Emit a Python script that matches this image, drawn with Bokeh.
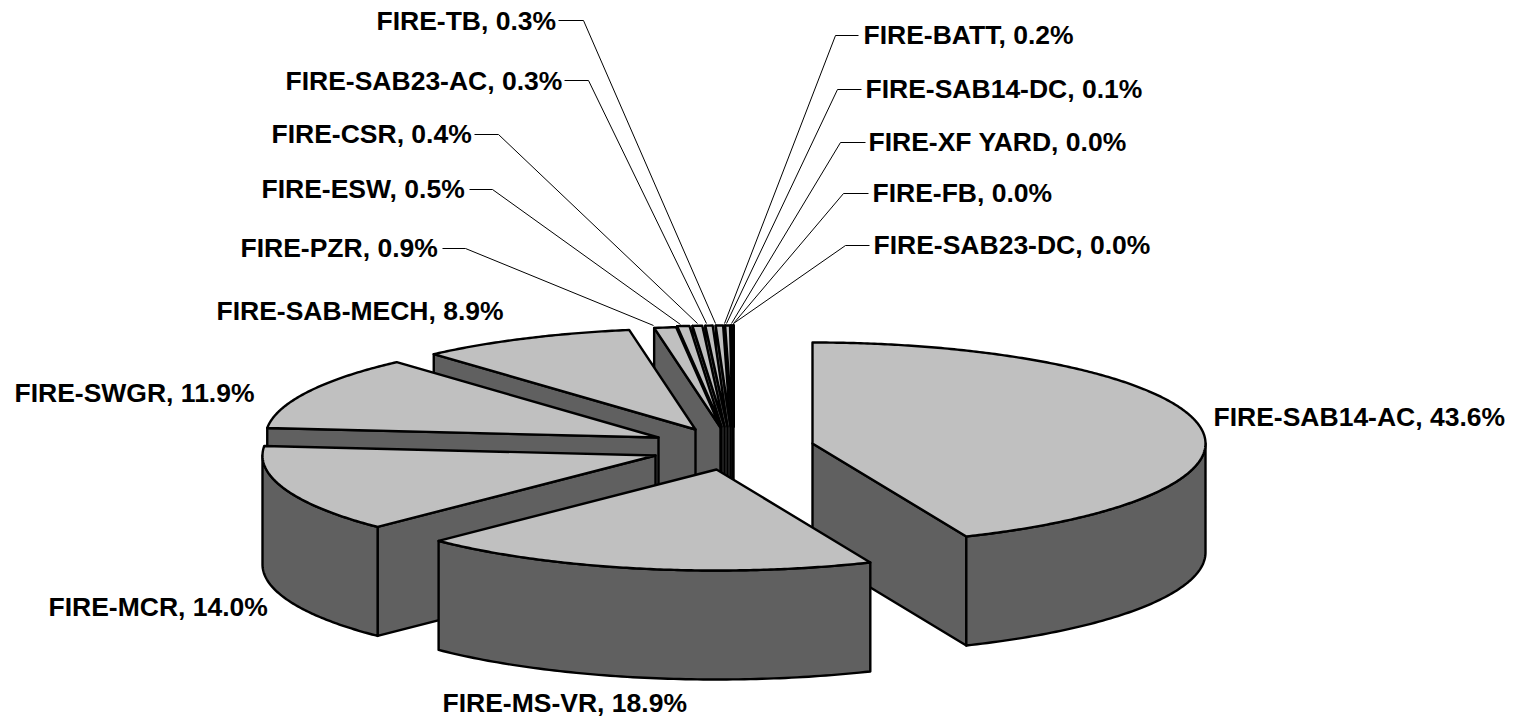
import numpy as np
from bokeh.plotting import figure
from bokeh.models import Range1d, ColumnDataSource
from bokeh.core.properties import value
from bokeh.embed import file_html
from bokeh.resources import INLINE

# --- data ---
categories = ["FIRE-SAB14-AC", "FIRE-MS-VR", "FIRE-MCR", "FIRE-SWGR", "FIRE-SAB-MECH",
              "FIRE-PZR", "FIRE-ESW", "FIRE-CSR", "FIRE-SAB23-AC", "FIRE-TB",
              "FIRE-BATT", "FIRE-SAB14-DC", "FIRE-XF YARD", "FIRE-FB", "FIRE-SAB23-DC"]
percent = [43.6, 18.9, 14.0, 11.9, 8.9, 0.9, 0.5, 0.4, 0.3, 0.3, 0.2, 0.1, 0.0, 0.0, 0.0]

# --- layout (page pixels) ---
RX, RY, DEPTH = 393.0, 101.0, 109.0
apex_x = [812, 716, 655, 658, 695, 720, 721, 724, 727, 730, 732, 733, 733, 733, 733]
apex_y = [443, 469, 455, 437, 429, 427, 426, 426, 426, 426, 426, 426, 426, 426, 426]
label_x = [1213, 442, 48, 14, 216, 240, 261, 271, 285, 376, 863, 865, 868, 872, 873]
label_y = [416, 702, 606, 392, 310, 247, 188, 133, 80, 20, 34, 88, 141, 192, 244]
leader_x = {5: [442, 465, 653], 6: [469, 492, 680], 7: [474, 498, 697], 8: [564, 588, 706],
            9: [558, 583, 715], 10: [858, 835, 724], 11: [861, 837, 726], 12: [865, 840, 731],
            13: [868, 843, 733], 14: [869, 845, 733]}
leader_y = {5: [248, 248, 325], 6: [189, 189, 324], 7: [134, 134, 323], 8: [80, 80, 323],
            9: [20, 20, 323], 10: [35, 35, 323], 11: [89, 89, 323], 12: [142, 142, 323],
            13: [193, 193, 323], 14: [245, 245, 323]}
TOP, SIDE = "#C0C0C0", "#606060"

p = figure(width=1513, height=720, output_backend="svg", toolbar_location=None,
           x_range=Range1d(0, 1513), y_range=Range1d(720, 0),
           min_border=0, outline_line_color=None, background_fill_color="white")
p.xaxis.visible = False
p.yaxis.visible = False
p.grid.visible = False

edges = np.concatenate([[0], np.cumsum(percent)]) / np.sum(percent) * 360.0


def rim(ax, ay, deg):
    t = np.radians(deg)
    return ax + RX * np.sin(t), ay - RY * np.cos(t)


xs, ys, fills = [], [], []


def add(px, py, col):
    xs.append(list(map(float, px)))
    ys.append(list(map(float, py)))
    fills.append(col)


# far slices first, the two nearest last
order = list(range(len(percent) - 1, 1, -1)) + [0, 1]
for i in order:
    a0, a1 = edges[i], edges[i + 1]
    ax, ay = apex_x[i], apex_y[i]
    # start cut face: visible on the left half of the pie
    if 180 <= a0 < 360:
        rx_, ry_ = rim(ax, ay, a0)
        add([ax, rx_, rx_, ax], [ay, ry_, ry_ + DEPTH, ay + DEPTH], SIDE)
    # end cut face: visible on the right half of the pie
    if 0 < a1 <= 180:
        rx_, ry_ = rim(ax, ay, a1)
        add([ax, rx_, rx_, ax], [ay, ry_, ry_ + DEPTH, ay + DEPTH], SIDE)
    # outer rim: only the near half of the ellipse
    lo, hi = max(a0, 90), min(a1, 270)
    if hi > lo:
        t = np.linspace(lo, hi, 80)
        ex, ey = rim(ax, ay, t)
        add(np.r_[ex, ex[::-1]], np.r_[ey, ey[::-1] + DEPTH], SIDE)
    # top face
    t = np.linspace(a0, a1, max(3, int((a1 - a0) * 2)))
    ex, ey = rim(ax, ay, t)
    add(np.r_[ax, ex], np.r_[ay, ey], TOP)

p.patches(xs="xs", ys="ys", fill_color="fills", line_color="black", line_width=2.4,
          line_join="round",
          source=ColumnDataSource(dict(xs=xs, ys=ys, fills=fills)))

p.multi_line(xs=[leader_x[k] for k in leader_x], ys=[leader_y[k] for k in leader_y],
             line_color="black", line_width=1)

labels = [f"{c}, {v:.1f}%" for c, v in zip(categories, percent)]
p.text(x=label_x, y=label_y, text=labels, text_font=value("Liberation Sans"),
       text_font_style="bold", text_font_size="26.5px", text_color="black",
       text_align="left", text_baseline="middle")

open("out.html", "w").write(file_html(p, INLINE))
